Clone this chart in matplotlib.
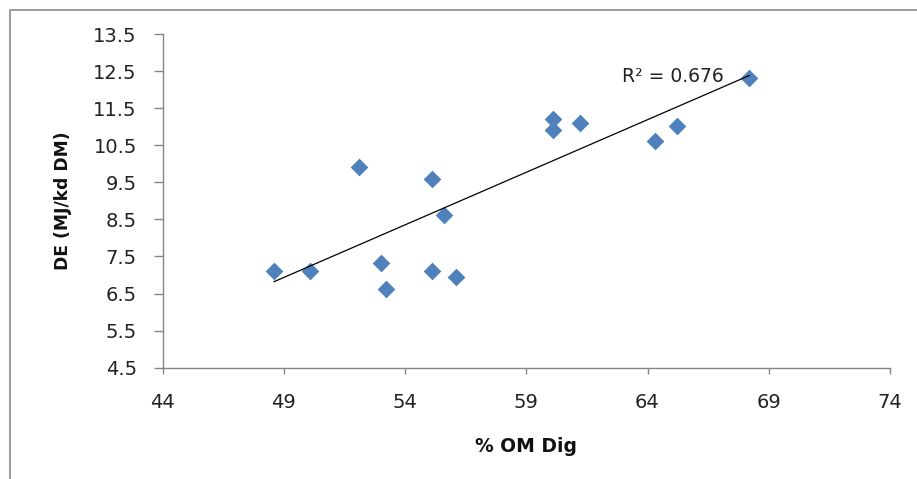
import numpy as np
import matplotlib
matplotlib.use("Agg")
import matplotlib.pyplot as plt
from matplotlib.patches import Rectangle

# Data
om_dig = [48.6, 50.1, 52.1, 53.0, 53.2, 55.1, 55.1, 55.6, 56.1, 60.1, 60.1, 61.2, 64.3, 65.2, 68.2]
de = [7.12, 7.12, 9.92, 7.33, 6.61, 9.6, 7.12, 8.61, 6.94, 11.22, 10.9, 11.1, 10.62, 11.02, 12.31]
# Linear trendline as drawn in the chart (end points)
trend_x = [48.6, 68.2]
trend_y = [6.82, 12.38]
r2_label = "R\u00b2 = 0.676"
x_ticks = [44, 49, 54, 59, 64, 69, 74]
y_ticks = [4.5, 5.5, 6.5, 7.5, 8.5, 9.5, 10.5, 11.5, 12.5, 13.5]

plt.rcParams['font.family'] = ['DejaVu Sans']

W, H = 917, 479
fig = plt.figure(figsize=(W / 100, H / 100), dpi=100)
fig.patch.set_facecolor('white')

# outer chart frame
fig.patches.append(Rectangle((10 / W, -0.1), 1.2, 1 - 9.5 / H + 0.1,
                             transform=fig.transFigure, fill=False,
                             edgecolor='#8a8a8a', linewidth=1.2))

ax = fig.add_axes([162.5 / W, 1 - 367.7 / H, (890 - 162.5) / W, (367.7 - 34) / H])

ax.scatter(om_dig, de, marker='D', s=9 ** 2, color='#4F81BD', linewidths=0, zorder=3)

ax.plot(trend_x, trend_y, color='black', linewidth=0.9, zorder=4)

ax.text(62.94, 12.36, r2_label, fontsize=13.5, ha='left', va='center', color='#222222')

ax.set_xlim(44, 74)
ax.set_ylim(4.5, 13.5)
ax.set_xticks(x_ticks)
ax.set_yticks(y_ticks)
ax.set_xticklabels([str(t) for t in x_ticks])
ax.set_yticklabels([f"{t:.1f}" for t in y_ticks])

for s in ['top', 'right']:
    ax.spines[s].set_visible(False)
for s in ['left', 'bottom']:
    ax.spines[s].set_color('#868686')
    ax.spines[s].set_linewidth(1.0)

ax.tick_params(axis='y', direction='out', length=6.5, width=1.0, color='#868686',
               labelsize=14, labelcolor='#222222', pad=12)
ax.tick_params(axis='x', direction='out', length=4.5, width=1.0, color='#868686',
               labelsize=14, labelcolor='#222222', pad=13.5)

ax.set_xlabel('% OM Dig', fontsize=13.5, fontweight='bold', labelpad=18, color='#111111')
ax.set_ylabel('DE (MJ/kd DM)', fontsize=12.3, fontweight='bold', labelpad=15, color='#111111')

fig.savefig('out.png', dpi=100, facecolor='white')
